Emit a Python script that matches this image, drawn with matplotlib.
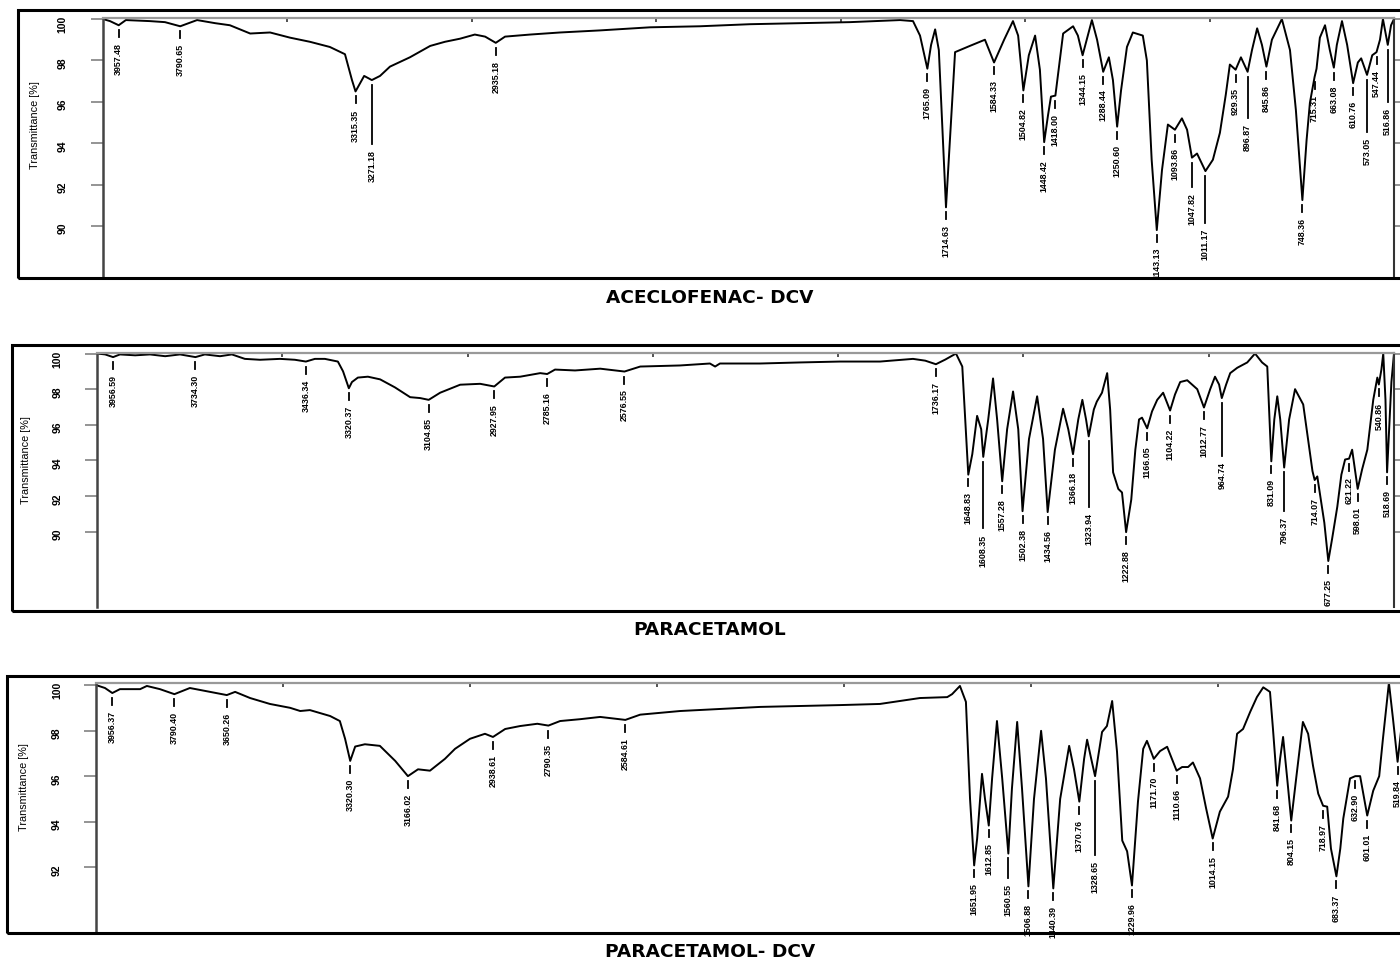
import numpy as np
import matplotlib.pyplot as plt
from matplotlib.patches import Rectangle

W, H = 1400, 962
NARROW = ['Liberation Sans', 'DejaVu Sans']

# ---- ACECLOFENAC- DCV ----
wn1 = [4000, 3981, 3957.5, 3938, 3873, 3832, 3790.7, 3745, 3696, 3656, 3601, 3547, 3493, 3439, 3385,
       3344, 3325, 3315.4, 3306, 3292, 3271.2, 3249, 3222, 3168, 3113, 3073, 3032, 2992, 2964, 2935.2,
       2910, 2842, 2761, 2653, 2517, 2382, 2246, 2110, 1975, 1839, 1804, 1785, 1765.1, 1755, 1744,
       1734, 1723, 1714.6, 1690, 1650, 1609, 1584.3, 1557, 1533, 1519, 1504.8, 1490, 1473, 1460,
       1448.4, 1438, 1430, 1418, 1406, 1397, 1370, 1357, 1344.2, 1330, 1319, 1305, 1288.4, 1273,
       1262, 1250.6, 1240, 1224, 1208, 1181, 1170, 1157, 1143.1, 1129, 1113, 1093.9, 1075, 1061,
       1047.8, 1034, 1011.2, 991, 972, 956, 945, 929.4, 915, 896.9, 885, 871, 858, 845.9, 831, 804,
       782, 766, 748.4, 737, 728, 715.3, 710, 701, 687, 674, 663.1, 655, 641, 627, 610.8, 598, 589,
       573.1, 559, 547.4, 538, 530, 516.9, 508, 500]
t1 = [100.0, 99.9, 99.7, 99.95, 99.9, 99.85, 99.65, 99.95, 99.8, 99.7, 99.3, 99.35, 99.1, 98.9, 98.65,
      98.3, 97.05, 96.5, 96.8, 97.25, 97.05, 97.25, 97.7, 98.15, 98.7, 98.9, 99.05, 99.25, 99.15, 98.85,
      99.15, 99.25, 99.35, 99.45, 99.6, 99.65, 99.75, 99.8, 99.85, 99.95, 99.9, 99.2, 97.6, 98.75, 99.5,
      98.5, 94.15, 90.9, 98.4, 98.7, 99.0, 97.9, 99.0, 99.9, 99.2, 96.55, 98.25, 99.2, 97.55,
      94.05, 95.35, 96.25, 96.3, 98.0, 99.3, 99.65, 99.2, 98.25, 99.2, 99.95, 99.0, 97.45, 98.15,
      97.05, 94.8, 96.55, 98.65, 99.35, 99.2, 98.0, 93.2, 89.8, 92.7, 94.9, 94.65, 95.2, 94.65,
      93.3, 93.5, 92.65, 93.2, 94.5, 96.35, 97.8, 97.55, 98.15, 97.45, 98.5, 99.55, 98.75, 97.7, 99.0, 100.0,
      98.5, 95.6, 91.25, 94.15, 95.95, 97.2, 97.6, 99.1, 99.7, 98.5, 97.65, 98.75, 99.9, 98.75, 96.9, 97.9, 98.1,
      97.3, 98.25, 98.4, 99.0, 100.0, 98.75, 99.7, 100.0]
pk1_wn = [3957.48, 3790.65, 3315.35, 3271.18, 2935.18, 1765.09, 1714.63, 1584.33, 1504.82, 1448.42,
          1418.00, 1344.15, 1288.44, 1250.60, 1143.13, 1093.86, 1047.82, 1011.17, 929.35, 896.87,
          845.86, 748.36, 715.31, 663.08, 610.76, 573.05, 547.44, 516.86]
pk1_txt = ['%.2f' % v for v in pk1_wn]

# ---- PARACETAMOL ----
wn2 = [4000, 3978, 3956.6, 3938, 3897, 3857, 3816, 3776, 3734.3, 3709, 3668, 3636, 3601, 3560, 3506,
       3466, 3436.3, 3412, 3385, 3350, 3336, 3320.4, 3312, 3296, 3269, 3236, 3196, 3155, 3128, 3104.9,
       3074, 3020, 2966, 2928, 2899, 2858, 2804, 2785.2, 2764, 2710, 2642, 2576.6, 2534, 2427, 2346,
       2332, 2319, 2211, 2103, 1995, 1887, 1798, 1765, 1736.2, 1711, 1682, 1665, 1657, 1648.8, 1638,
       1625, 1614, 1608.4, 1595, 1582, 1571, 1557.3, 1544, 1528, 1514, 1502.4, 1485, 1463, 1447,
       1434.6, 1415, 1393, 1379, 1366.2, 1352, 1341, 1331, 1323.9, 1310, 1302, 1288, 1274, 1266,
       1258, 1244, 1234, 1222.9, 1209, 1198, 1188, 1180, 1166.1, 1153, 1139, 1123, 1104.2, 1091,
       1077, 1058, 1031, 1012.8, 996, 983, 972, 964.7, 953, 942, 923, 896, 875, 856, 842, 836,
       831.1, 823, 815, 807, 796.4, 783, 767, 745, 732, 720, 714.1, 707, 699, 688, 677.3, 667, 653,
       642, 632, 621.2, 613, 598.0, 586, 572, 556, 545, 540.9, 534, 529, 523, 518.7, 512, 507, 500]
t2 = [100.0, 99.95, 99.8, 99.95, 99.9, 99.95, 99.85, 99.95, 99.8, 99.95, 99.85, 99.95, 99.7, 99.65, 99.7,
      99.65, 99.55, 99.7, 99.7, 99.55, 99.0, 98.05, 98.4, 98.65, 98.7, 98.55, 98.1, 97.55, 97.5, 97.4,
      97.8, 98.25, 98.3, 98.15, 98.65, 98.7, 98.9, 98.85, 99.1, 99.05, 99.15, 98.99, 99.27, 99.33, 99.44,
      99.27, 99.44, 99.44, 99.5, 99.55, 99.55, 99.7, 99.6, 99.4, 99.66, 100.0, 99.27, 96.3, 93.2, 94.35,
      96.5, 95.75, 94.2, 96.3, 98.6, 96.3, 92.83, 95.75, 97.87, 95.75, 91.15, 95.2, 97.6, 95.2,
      91.1, 94.6, 96.9, 95.75, 94.35, 96.3, 97.4, 96.3, 95.35, 96.86, 97.3, 97.8, 98.9, 96.86,
      93.33, 92.4, 92.2, 89.97, 91.8, 94.6, 96.3, 96.4, 95.8, 96.75, 97.4, 97.8, 96.8, 97.7,
      98.4, 98.5, 98.0, 96.97, 98.0, 98.7, 98.26, 97.5, 98.26, 98.9, 99.2, 99.5, 100.0, 99.5, 99.27, 96.3,
      93.95, 96.3, 97.6, 96.3, 93.6, 96.3, 98.0, 97.14, 95.2, 93.4, 92.9, 93.1, 92.0, 90.5, 88.35, 89.6, 91.4,
      93.2, 94.05, 94.1, 94.6, 92.4, 93.5, 94.6, 97.4, 98.65, 98.26, 99.1, 100.0, 97.4, 93.33, 96.3, 98.4, 100.0]
pk2_wn = [3956.59, 3734.30, 3436.34, 3320.37, 3104.85, 2927.95, 2785.16, 2576.55, 1736.17, 1648.83,
          1608.35, 1557.28, 1502.38, 1434.56, 1366.18, 1323.94, 1222.88, 1166.05, 1104.22, 1012.77,
          964.74, 831.09, 796.37, 714.07, 677.25, 621.22, 598.01, 540.86, 518.69]
pk2_txt = ['%.2f' % v for v in pk2_wn]

# ---- PARACETAMOL- DCV ----
wn3 = [4000, 3976, 3956.4, 3936, 3882, 3864, 3829, 3790.4, 3749, 3695, 3650.3, 3628, 3588, 3535, 3481,
       3454, 3428, 3374, 3348, 3334, 3320.3, 3307, 3281, 3241, 3200, 3166.0, 3139, 3107, 3067, 3040,
       3000, 2960, 2938.6, 2906, 2866, 2820, 2790.4, 2759, 2706, 2652, 2584.6, 2545, 2438, 2224, 2011,
       1904, 1850, 1797, 1724, 1711, 1690, 1674, 1663, 1652.0, 1644, 1631, 1623, 1612.9, 1604, 1591,
       1577, 1560.6, 1551, 1537, 1524, 1506.9, 1492, 1473, 1460, 1440.4, 1422, 1398, 1385, 1370.8,
       1358, 1350, 1339, 1328.7, 1310, 1297, 1283, 1270, 1256, 1243, 1230.0, 1214, 1200, 1190, 1171.7,
       1155, 1136, 1110.7, 1096, 1080, 1067, 1048, 1032, 1014.2, 995, 973, 960, 949, 933, 914, 896,
       879, 861, 853, 841.7, 834, 826, 815, 804.2, 791, 773, 759, 746, 732, 719.0, 708, 698, 683.4,
       673, 665, 647, 632.9, 620, 609, 601.0, 585, 569, 559, 543, 532, 519.8, 510, 500]
t3 = [100.0, 99.87, 99.65, 99.82, 99.82, 99.96, 99.82, 99.6, 99.87, 99.7, 99.56, 99.7, 99.43, 99.17, 99.0,
      98.86, 98.9, 98.64, 98.42, 97.64, 96.67, 97.3, 97.4, 97.33, 96.67, 96.0, 96.3, 96.24, 96.76, 97.2,
      97.64, 97.86, 97.72, 98.07, 98.2, 98.3, 98.22, 98.42, 98.5, 98.6, 98.47, 98.7, 98.86, 99.04, 99.12,
      99.17, 99.3, 99.43, 99.47, 99.6, 99.96, 99.26, 95.0, 92.08, 93.26, 96.1, 95.0, 93.83, 95.9, 98.42,
      95.9, 92.6, 95.45, 98.38, 95.45, 91.16, 95.0, 97.99, 95.9, 91.07, 95.0, 97.33, 96.3, 94.88,
      96.76, 97.6, 96.76, 96.0, 97.94, 98.2, 99.3, 97.07, 93.17, 92.7, 91.2, 94.88, 97.2, 97.55, 96.76,
      97.1, 97.29, 96.24, 96.4, 96.4, 96.6, 95.9, 94.6, 93.26, 94.44, 95.1, 96.3, 97.86, 98.07, 98.82, 99.47,
      99.9, 99.7, 98.07, 95.58, 96.76, 97.72, 95.9, 94.05, 95.9, 98.38, 97.86, 96.46, 95.23, 94.7, 94.66, 92.82, 91.6,
      92.82, 94.14, 95.9, 96.0, 96.0, 95.0, 94.27, 95.36, 96.0, 97.64, 100.1, 98.5, 96.63, 98.07, 99.4]
pk3_wn = [3956.37, 3790.40, 3650.26, 3320.30, 3166.02, 2938.61, 2790.35, 2584.61, 1651.95, 1612.85,
          1560.55, 1506.88, 1440.39, 1370.76, 1328.65, 1229.96, 1171.70, 1110.66, 1014.15, 841.68,
          804.15, 718.97, 683.37, 632.90, 601.01, 519.84]
pk3_txt = ['%.2f' % v for v in pk3_wn]

top_ticks = [3500, 3000, 2500, 2000, 1500, 1000]

# labels that hang lower on a long leader line: text -> T of text top
long1 = {'3271.18': 93.7, '1047.82': 91.65, '1011.17': 89.9, '896.87': 94.98,
         '573.05': 94.3, '516.86': 95.75}
long2 = {'1608.35': 89.9, '1323.94': 91.1, '964.74': 93.95, '796.37': 90.87}
long3 = {'1560.55': 91.3, '1328.65': 92.3}

fig = plt.figure(figsize=(14, 9.62), dpi=100)


def panel(frame, box, ylim, yt, wn, t, pk_wn, pk_txt, long_top, ylab_xy, pad):
    fl, ft, fr, fb = frame
    fig.add_artist(Rectangle((fl / W, 1 - fb / H), (fr - fl) / W, (fb - ft) / H,
                             transform=fig.transFigure, fill=False, lw=2.2, ec='black'))
    l, tp, r, b = box
    ax = fig.add_axes([l / W, 1 - b / H, (r - l) / W, (b - tp) / H])
    ax.plot(wn, t, color='black', lw=1.4, solid_joinstyle='round')
    ax.set_xlim(4000, 500)
    ax.set_ylim(*ylim)
    ax.xaxis.tick_top()
    ax.set_xticks(top_ticks)
    ax.tick_params(axis='x', direction='in', length=3, width=1.2, color='#333',
                   labeltop=False, labelbottom=False, bottom=False)
    ax.set_yticks(yt)
    ax.set_yticklabels([str(v) for v in yt], rotation=90, family=NARROW, fontsize=7.5,
                       fontweight='bold')
    ax.tick_params(axis='y', direction='out', length=9, width=1.1, color='#777',
                   pad=pad, right=True)
    ax.spines['bottom'].set_visible(False)
    ax.spines['left'].set_color('#444')
    ax.spines['left'].set_linewidth(1.8)
    ax.spines['top'].set_color('#999')
    ax.spines['top'].set_linewidth(1.6)
    ax.spines['right'].set_color('#333')
    ax.spines['right'].set_linewidth(1.5)
    fig.text(ylab_xy[0] / W, 1 - ylab_xy[1] / H, 'Transmittance [%]', rotation=90,
             ha='center', va='center', family=NARROW, fontsize=7.8)
    ppp = (b - tp) / (ylim[1] - ylim[0])
    rw, rt = np.array(wn)[::-1], np.array(t)[::-1]
    for w, s in zip(pk_wn, pk_txt):
        y0 = np.interp(w, rw, rt)
        top = long_top.get(s, y0 - 17 / ppp)
        ax.plot([w, w], [y0 - 5 / ppp, top + 5 / ppp], color='black', lw=1.3)
        ax.text(w, top, s, rotation=90, ha='center', va='top', family=NARROW, fontsize=6.4,
                fontweight='bold')
    return ax


panel((18, 11, 1410, 279), (103, 19, 1394, 277), (87.58, 100.05), [100, 98, 96, 94, 92, 90],
      wn1, t1, pk1_wn, pk1_txt, long1, (35, 125), 16.5)
panel((12, 346, 1410, 612), (97, 354, 1394, 608), (85.77, 100.03), [100, 98, 96, 94, 92, 90],
      wn2, t2, pk2_wn, pk2_txt, long2, (26, 460), 16)
panel((7, 677, 1410, 934), (96, 684, 1405, 932), (89.2, 100.09), [100, 98, 96, 94, 92],
      wn3, t3, pk3_wn, pk3_txt, long3, (24, 787), 15.5)

fig.text(710 / W, 1 - 298 / H, 'ACECLOFENAC- DCV', ha='center', va='center',
         fontweight='bold', fontsize=13.3)
fig.text(710 / W, 1 - 630 / H, 'PARACETAMOL', ha='center', va='center',
         fontweight='bold', fontsize=13.3)
fig.text(710 / W, 1 - 952 / H, 'PARACETAMOL- DCV', ha='center', va='center',
         fontweight='bold', fontsize=13.3)

fig.savefig('out.png', dpi=100)
